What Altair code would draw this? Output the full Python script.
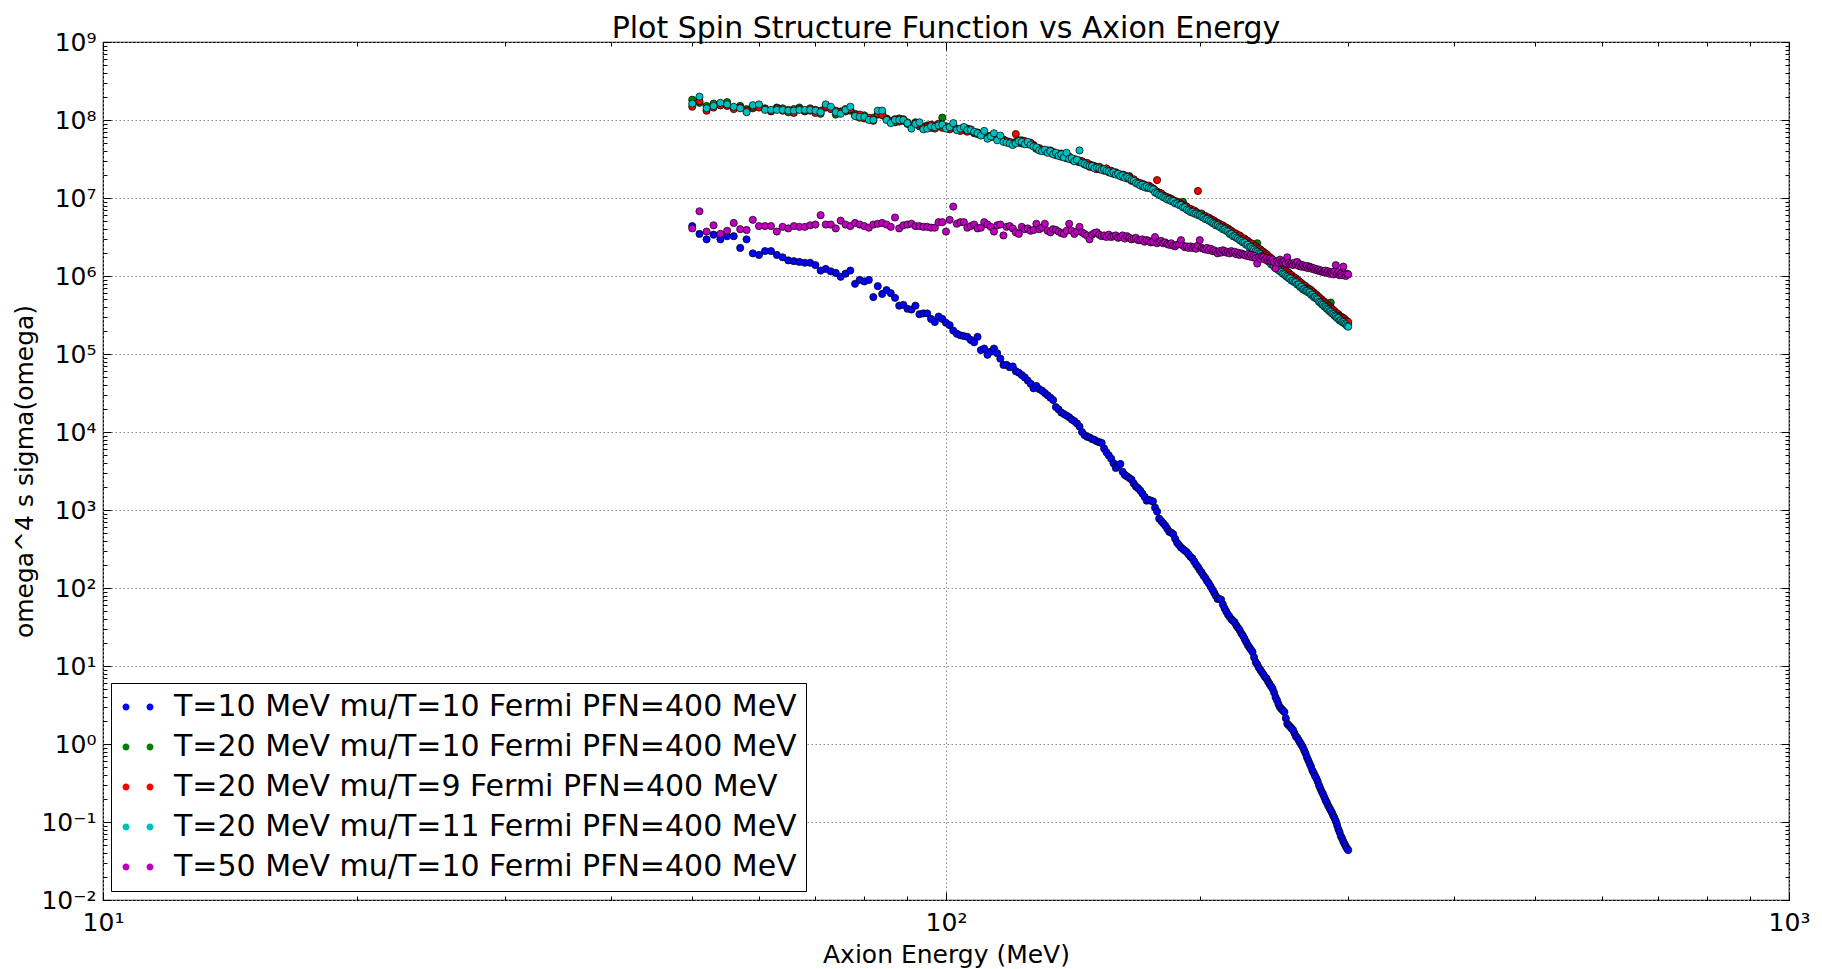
import altair as alt
import pandas as pd

# ---------------- data ----------------
labels = [
    "T=10 MeV mu/T=10 Fermi PFN=400 MeV",
    "T=20 MeV mu/T=10 Fermi PFN=400 MeV",
    "T=20 MeV mu/T=9 Fermi PFN=400 MeV",
    "T=20 MeV mu/T=11 Fermi PFN=400 MeV",
    "T=50 MeV mu/T=10 Fermi PFN=400 MeV",
]
colors = ["#0000ff", "#008000", "#ff0000", "#00bfbf", "#bf00bf"]

# axion energy grid, MeV (1 MeV steps, 50 ... 300)
energy = list(range(50, 301))

# log10 of omega^4 s sigma(omega), one value per energy
blue_log10 = [
    6.64, 6.54, 6.47, 6.53, 6.47, 6.51, 6.51, 6.36, 6.47, 6.29,
    6.27, 6.32, 6.32, 6.27, 6.24, 6.20, 6.19, 6.18, 6.17, 6.17,
    6.14, 6.07, 6.09, 6.06, 6.04, 5.99, 6.03, 6.07, 5.90, 5.95,
    5.93, 5.95, 5.73, 5.87, 5.77, 5.82, 5.78, 5.72, 5.62, 5.63,
    5.58, 5.57, 5.62, 5.51, 5.52, 5.52, 5.45, 5.41, 5.48, 5.45,
    5.40, 5.37, 5.30, 5.26, 5.24, 5.23, 5.22, 5.18, 5.15, 5.22,
    5.05, 5.07, 4.99, 5.03, 5.07, 5.01, 4.94, 4.86, 4.86, 4.83,
    4.84, 4.78, 4.76, 4.73, 4.70, 4.66, 4.62, 4.56, 4.59, 4.55,
    4.53, 4.50, 4.47, 4.44, 4.41, 4.32, 4.29, 4.25, 4.23, 4.21,
    4.19, 4.16, 4.14, 4.11, 4.07, 4.00, 3.96, 3.94, 3.93, 3.91,
    3.90, 3.88, 3.87, 3.86, 3.79, 3.74, 3.70, 3.66, 3.60, 3.54,
    3.57, 3.59, 3.49, 3.45, 3.43, 3.41, 3.39, 3.34, 3.30, 3.28,
    3.25, 3.21, 3.17, 3.12, 3.13, 3.12, 3.11, 3.03, 2.98, 2.89,
    2.86, 2.83, 2.80, 2.76, 2.72, 2.71, 2.69, 2.63, 2.58, 2.55,
    2.52, 2.50, 2.48, 2.46, 2.43, 2.40, 2.38, 2.34, 2.30, 2.27,
    2.23, 2.20, 2.16, 2.13, 2.09, 2.06, 2.02, 1.98, 1.94, 1.90,
    1.86, 1.86, 1.85, 1.79, 1.74, 1.70, 1.66, 1.63, 1.60, 1.58,
    1.56, 1.52, 1.49, 1.46, 1.42, 1.39, 1.35, 1.31, 1.27, 1.24,
    1.21, 1.18, 1.11, 1.05, 1.02, 0.98, 0.95, 0.92, 0.89, 0.86,
    0.84, 0.80, 0.77, 0.74, 0.71, 0.66, 0.60, 0.56, 0.51, 0.47,
    0.45, 0.43, 0.41, 0.33, 0.26, 0.24, 0.22, 0.20, 0.18, 0.14,
    0.10, 0.08, 0.05, 0.02, -0.01, -0.04, -0.08, -0.12, -0.17, -0.21,
    -0.25, -0.29, -0.34, -0.37, -0.41, -0.44, -0.48, -0.53, -0.57, -0.61,
    -0.64, -0.68, -0.72, -0.75, -0.79, -0.82, -0.85, -0.88, -0.92, -0.95,
    -0.99, -1.04, -1.09, -1.13, -1.18, -1.21, -1.25, -1.28, -1.31, -1.34,
    -1.36,
]

green_log10 = [
    8.26, 8.22, 8.18, 8.21, 8.19, 8.23, 8.16, 8.18, 8.14, 8.15,
    8.18, 8.15, 8.12, 8.16, 8.15, 8.10, 8.14, 8.16, 8.11, 8.12,
    8.13, 8.08, 8.16, 8.15, 8.07, 8.11, 8.14, 8.12, 8.08, 8.03,
    8.06, 8.02, 8.03, 8.07, 8.09, 8.02, 7.99, 7.97, 8.02, 7.99,
    7.95, 7.93, 7.97, 7.92, 7.91, 7.93, 7.90, 7.93, 7.92, 8.03,
    7.92, 7.89, 7.91, 7.89, 7.88, 7.87, 7.89, 7.86, 7.83, 7.84,
    7.81, 7.82, 7.79, 7.78, 7.80, 7.76, 7.77, 7.75, 7.72, 7.71,
    7.70, 7.72, 7.71, 7.74, 7.71, 7.69, 7.70, 7.68, 7.64, 7.63,
    7.61, 7.60, 7.59, 7.61, 7.58, 7.56, 7.55, 7.57, 7.54, 7.51,
    7.52, 7.50, 7.49, 7.47, 7.46, 7.47, 7.45, 7.42, 7.43, 7.40,
    7.41, 7.39, 7.37, 7.38, 7.36, 7.37, 7.35, 7.34, 7.32, 7.33,
    7.31, 7.29, 7.30, 7.28, 7.26, 7.28, 7.24, 7.22, 7.21, 7.19,
    7.18, 7.18, 7.16, 7.14, 7.15, 7.13, 7.12, 7.09, 7.08, 7.07,
    7.05, 7.03, 7.02, 7.00, 7.00, 6.98, 6.97, 6.95, 6.95, 6.93,
    6.92, 6.95, 6.90, 6.88, 6.86, 6.85, 6.84, 6.82, 6.82, 6.80,
    6.79, 6.78, 6.77, 6.75, 6.74, 6.73, 6.72, 6.70, 6.69, 6.67,
    6.67, 6.65, 6.64, 6.62, 6.62, 6.60, 6.59, 6.57, 6.56, 6.54,
    6.53, 6.51, 6.50, 6.49, 6.47, 6.46, 6.45, 6.43, 6.42, 6.40,
    6.39, 6.38, 6.36, 6.35, 6.42, 6.32, 6.30, 6.29, 6.27, 6.26,
    6.24, 6.22, 6.20, 6.19, 6.17, 6.16, 6.14, 6.12, 6.11, 6.09,
    6.08, 6.06, 6.05, 6.03, 6.02, 6.00, 5.99, 5.97, 5.96, 5.95,
    5.94, 5.92, 5.91, 5.89, 5.88, 5.86, 5.85, 5.84, 5.83, 5.82,
    5.81, 5.79, 5.78, 5.76, 5.75, 5.74, 5.72, 5.70, 5.69, 5.67,
    5.66, 5.64, 5.63, 5.61, 5.60, 5.58, 5.66, 5.56, 5.54, 5.52,
    5.51, 5.49, 5.48, 5.47, 5.45, 5.44, 5.43, 5.42, 5.40, 5.39,
    5.38,
]

red_log10 = [
    8.17, 8.24, 8.12, 8.16, 8.19, 8.18, 8.14, 8.16, 8.12, 8.17,
    8.16, 8.14, 8.11, 8.15, 8.12, 8.13, 8.09, 8.14, 8.12, 8.15,
    8.09, 8.12, 8.17, 8.14, 8.12, 8.10, 8.11, 8.14, 8.06, 8.07,
    8.02, 8.03, 7.99, 8.08, 8.06, 8.01, 7.98, 8.01, 7.98, 8.01,
    7.97, 7.92, 7.96, 7.94, 7.90, 7.91, 7.94, 7.89, 7.95, 7.90,
    7.90, 7.88, 7.93, 7.88, 7.86, 7.90, 7.85, 7.88, 7.84, 7.82,
    7.82, 7.84, 7.78, 7.80, 7.81, 7.77, 7.78, 7.74, 7.73, 7.72,
    7.70, 7.82, 7.74, 7.70, 7.73, 7.70, 7.71, 7.67, 7.63, 7.64,
    7.62, 7.60, 7.61, 7.58, 7.59, 7.55, 7.57, 7.53, 7.55, 7.52,
    7.53, 7.49, 7.50, 7.47, 7.48, 7.47, 7.43, 7.45, 7.40, 7.42,
    7.40, 7.37, 7.40, 7.37, 7.35, 7.38, 7.33, 7.35, 7.31, 7.32,
    7.30, 7.30, 7.27, 7.29, 7.25, 7.27, 7.22, 7.24, 7.21, 7.20,
    7.19, 7.15, 7.17, 7.13, 7.16, 7.14, 7.12, 7.10, 7.23, 7.06,
    7.06, 7.03, 7.02, 7.01, 6.99, 6.99, 6.97, 6.96, 6.95, 6.94,
    6.92, 6.91, 6.89, 6.89, 6.86, 6.86, 6.84, 6.84, 6.82, 7.09,
    6.80, 6.80, 6.77, 6.77, 6.75, 6.75, 6.73, 6.72, 6.71, 6.69,
    6.68, 6.67, 6.65, 6.65, 6.63, 6.62, 6.61, 6.59, 6.58, 6.56,
    6.55, 6.54, 6.52, 6.52, 6.50, 6.48, 6.48, 6.46, 6.45, 6.43,
    6.42, 6.41, 6.39, 6.38, 6.36, 6.35, 6.34, 6.32, 6.31, 6.29,
    6.28, 6.26, 6.24, 6.23, 6.21, 6.19, 6.18, 6.16, 6.14, 6.13,
    6.11, 6.10, 6.08, 6.07, 6.05, 6.04, 6.02, 6.01, 5.99, 5.98,
    5.97, 5.95, 5.94, 5.92, 5.91, 5.89, 5.88, 5.87, 5.85, 5.84,
    5.83, 5.82, 5.80, 5.79, 5.77, 5.76, 5.74, 5.73, 5.71, 5.70,
    5.68, 5.67, 5.65, 5.64, 5.62, 5.61, 5.59, 5.58, 5.56, 5.55,
    5.53, 5.52, 5.51, 5.49, 5.48, 5.47, 5.46, 5.45, 5.43, 5.42,
    5.41,
]

cyan_log10 = [
    8.21, 8.30, 8.15, 8.18, 8.22, 8.20, 8.17, 8.15, 8.10, 8.19,
    8.20, 8.13, 8.13, 8.13, 8.13, 8.12, 8.12, 8.13, 8.13, 8.13,
    8.12, 8.10, 8.20, 8.17, 8.10, 8.08, 8.13, 8.17, 8.05, 8.04,
    8.04, 8.00, 8.00, 8.12, 8.12, 8.00, 7.96, 8.00, 8.00, 8.00,
    7.96, 7.89, 7.95, 7.97, 7.88, 7.89, 7.92, 7.91, 7.93, 7.94,
    7.89, 7.91, 7.96, 7.87, 7.89, 7.91, 7.87, 7.87, 7.85, 7.83,
    7.80, 7.86, 7.76, 7.79, 7.83, 7.74, 7.80, 7.72, 7.71, 7.70,
    7.68, 7.70, 7.73, 7.72, 7.69, 7.72, 7.68, 7.66, 7.65, 7.61,
    7.60, 7.62, 7.58, 7.60, 7.56, 7.58, 7.54, 7.56, 7.52, 7.58,
    7.50, 7.51, 7.47, 7.49, 7.61, 7.45, 7.44, 7.42, 7.41, 7.41,
    7.38, 7.39, 7.38, 7.36, 7.37, 7.35, 7.34, 7.32, 7.33, 7.30,
    7.31, 7.28, 7.29, 7.26, 7.27, 7.25, 7.23, 7.22, 7.19, 7.18,
    7.16, 7.17, 7.14, 7.15, 7.13, 7.12, 7.11, 7.07, 7.06, 7.04,
    7.03, 7.01, 7.00, 6.98, 6.98, 6.96, 6.96, 6.93, 6.93, 6.91,
    6.91, 6.88, 6.88, 6.85, 6.84, 6.82, 6.82, 6.80, 6.80, 6.78,
    6.78, 6.76, 6.75, 6.73, 6.73, 6.71, 6.70, 6.68, 6.67, 6.65,
    6.65, 6.63, 6.62, 6.60, 6.60, 6.58, 6.57, 6.54, 6.54, 6.51,
    6.51, 6.49, 6.48, 6.46, 6.45, 6.43, 6.43, 6.40, 6.40, 6.37,
    6.37, 6.35, 6.34, 6.32, 6.31, 6.29, 6.28, 6.26, 6.25, 6.23,
    6.22, 6.19, 6.18, 6.15, 6.15, 6.12, 6.11, 6.09, 6.08, 6.06,
    6.05, 6.03, 6.02, 6.00, 5.99, 5.97, 5.97, 5.94, 5.94, 5.92,
    5.92, 5.89, 5.89, 5.86, 5.86, 5.83, 5.83, 5.81, 5.81, 5.79,
    5.79, 5.76, 5.76, 5.73, 5.73, 5.71, 5.70, 5.67, 5.66, 5.64,
    5.63, 5.61, 5.60, 5.58, 5.57, 5.55, 5.54, 5.52, 5.51, 5.49,
    5.48, 5.46, 5.46, 5.43, 5.43, 5.41, 5.41, 5.39, 5.38, 5.36,
    5.35,
]

magenta_log10 = [
    6.61, 6.83, 6.57, 6.65, 6.54, 6.58, 6.68, 6.60, 6.59, 6.72,
    6.64, 6.64, 6.64, 6.57, 6.63, 6.61, 6.64, 6.63, 6.63, 6.65,
    6.66, 6.78, 6.66, 6.66, 6.61, 6.71, 6.66, 6.64, 6.68, 6.66,
    6.64, 6.62, 6.66, 6.67, 6.68, 6.66, 6.63, 6.75, 6.61, 6.65,
    6.66, 6.67, 6.64, 6.64, 6.63, 6.63, 6.62, 6.62, 6.69, 6.69,
    6.57, 6.72, 6.89, 6.67, 6.69, 6.69, 6.62, 6.64, 6.66, 6.61,
    6.62, 6.69, 6.66, 6.63, 6.57, 6.65, 6.66, 6.52, 6.63, 6.64,
    6.61, 6.56, 6.54, 6.63, 6.60, 6.61, 6.58, 6.59, 6.67, 6.60,
    6.62, 6.67, 6.58, 6.56, 6.60, 6.59, 6.57, 6.55, 6.54, 6.58,
    6.67, 6.58, 6.54, 6.57, 6.63, 6.56, 6.54, 6.52, 6.47, 6.53,
    6.55, 6.56, 6.53, 6.51, 6.52, 6.50, 6.53, 6.50, 6.51, 6.52,
    6.49, 6.50, 6.52, 6.48, 6.51, 6.49, 6.47, 6.48, 6.49, 6.46,
    6.46, 6.47, 6.44, 6.46, 6.45, 6.43, 6.44, 6.50, 6.42, 6.44,
    6.45, 6.42, 6.43, 6.41, 6.40, 6.42, 6.39, 6.38, 6.40, 6.41,
    6.46, 6.39, 6.37, 6.38, 6.36, 6.38, 6.36, 6.37, 6.35, 6.39,
    6.46, 6.36, 6.35, 6.34, 6.36, 6.33, 6.35, 6.32, 6.33, 6.31,
    6.29, 6.32, 6.30, 6.33, 6.32, 6.30, 6.31, 6.29, 6.32, 6.30,
    6.31, 6.28, 6.30, 6.27, 6.29, 6.28, 6.27, 6.26, 6.28, 6.25,
    6.27, 6.24, 6.26, 6.23, 6.16, 6.24, 6.22, 6.25, 6.24, 6.21,
    6.23, 6.20, 6.22, 6.19, 6.21, 6.18, 6.10, 6.19, 6.17, 6.21,
    6.18, 6.17, 6.19, 6.16, 6.24, 6.17, 6.15, 6.16, 6.14, 6.17,
    6.15, 6.18, 6.13, 6.15, 6.12, 6.14, 6.12, 6.11, 6.13, 6.10,
    6.12, 6.11, 6.09, 6.10, 6.08, 6.09, 6.07, 6.08, 6.06, 6.07,
    6.05, 6.05, 6.07, 6.04, 6.06, 6.03, 6.05, 6.04, 6.02, 6.06,
    6.14, 6.03, 6.05, 6.01, 6.03, 6.01, 6.12, 6.02, 6.00, 6.03,
    6.02,
]

# axis tick positions
x_major = [10, 100, 1000]
x_minor = [k * d for d in (10, 100) for k in range(2, 10)]
y_major = [10.0 ** e for e in range(-2, 10)]
y_minor = [k * 10.0 ** e for e in range(-2, 9) for k in range(2, 10)]

# ---------------- build table ----------------
series_values = [blue_log10, green_log10, red_log10, cyan_log10, magenta_log10]
rows = []
for lab, vals in zip(labels, series_values):
    assert len(vals) == len(energy), (lab, len(vals))
    for e, v in zip(energy, vals):
        rows.append({"energy": e, "value": 10.0 ** v, "series": lab})
df = pd.DataFrame(rows)

FONT = "DejaVu Sans"
xscale = alt.Scale(type="log", domain=[10, 1000], nice=False)
yscale = alt.Scale(type="log", domain=[0.01, 1e9], nice=False)

sup = ("'10' + replace(replace(replace(replace(replace(replace(replace(replace(replace(replace(replace("
       "toString(round(log(datum.value)/LN10)), '-', '\u207b'), '0', '\u2070'), '1', '\u00b9'), '2', '\u00b2'),"
       " '3', '\u00b3'), '4', '\u2074'), '5', '\u2075'), '6', '\u2076'), '7', '\u2077'), '8', '\u2078'), '9', '\u2079')")

legend_symbol = ("M -1.04 0 A 0.29 0.29 0 1 0 -0.46 0 A 0.29 0.29 0 1 0 -1.04 0 Z "
                 "M 0.96 0 A 0.29 0.29 0 1 0 1.54 0 A 0.29 0.29 0 1 0 0.96 0 Z")

color = alt.Color(
    "series:N",
    scale=alt.Scale(domain=labels, range=colors),
    legend=alt.Legend(
        title=None, orient="none", legendX=8, legendY=641,
        symbolType=legend_symbol, symbolSize=576, symbolStrokeWidth=0,
        labelFont=FONT, labelFontSize=30, labelLimit=1000, labelOffset=24,
        padding=9, rowPadding=10, strokeColor="black", fillColor="white",
        cornerRadius=0,
    ),
)

# layer 1: the data, with grid lines and axis titles
points = alt.Chart(df).mark_circle(size=52, opacity=1, stroke="black", strokeWidth=0.7).encode(
    x=alt.X("energy:Q", scale=xscale, axis=alt.Axis(
        orient="bottom", values=x_major, grid=True, ticks=False, labels=False, domain=False,
        title="Axion Energy (MeV)", titleFontSize=25, titleFont=FONT, titleFontWeight="normal",
        titleY=62, titleBaseline="alphabetic", titleColor="black")),
    y=alt.Y("value:Q", scale=yscale, axis=alt.Axis(
        orient="left", values=y_major, grid=True, ticks=False, labels=False, domain=False,
        title="omega^4 s sigma(omega)", titleFontSize=25, titleFont=FONT, titleFontWeight="normal",
        titleX=-71, titleY=429, titleAngle=270, titleBaseline="alphabetic", titleAlign="center",
        titleColor="black")),
    color=color,
)

def tick_layer(x_axis, y_axis):
    return alt.Chart(df).transform_filter(alt.datum.energy == 300).mark_circle(opacity=0, size=1).encode(
        x=alt.X("energy:Q", scale=xscale, axis=x_axis),
        y=alt.Y("value:Q", scale=yscale, axis=y_axis),
    )

common = dict(grid=False, domain=False, tickColor="black", tickWidth=1)

major_labeled = tick_layer(
    alt.Axis(orient="bottom", values=x_major, offset=-8, tickSize=8, labels=True, title=None,
             labelExpr=sup, labelFont=FONT, labelFontSize=25, labelPadding=10, labelColor="black",
             labelFlush=False, labelOverlap=False, **common),
    alt.Axis(orient="left", values=y_major, offset=-8, tickSize=8, labels=True, title=None,
             labelExpr=sup, labelFont=FONT, labelFontSize=25, labelPadding=7, labelColor="black",
             labelFlush=False, labelOverlap=False, **common),
)
minor_bl = tick_layer(
    alt.Axis(orient="bottom", values=x_minor, offset=-4, tickSize=4, labels=False, title=None, **common),
    alt.Axis(orient="left", values=y_minor, offset=-4, tickSize=4, labels=False, title=None, **common),
)
major_tr = tick_layer(
    alt.Axis(orient="top", values=x_major, offset=-8, tickSize=8, labels=False, title=None, **common),
    alt.Axis(orient="right", values=y_major, offset=-8, tickSize=8, labels=False, title=None, **common),
)
minor_tr = tick_layer(
    alt.Axis(orient="top", values=x_minor, offset=-4, tickSize=4, labels=False, title=None, **common),
    alt.Axis(orient="right", values=y_minor, offset=-4, tickSize=4, labels=False, title=None, **common),
)

chart = alt.layer(points, major_labeled, minor_bl, major_tr, minor_tr).resolve_axis(
    x="independent", y="independent"
).properties(
    width=1686, height=858,
    autosize=alt.AutoSizeParams(type="none"),
    padding={"left": 103, "top": 42, "right": 33, "bottom": 69},
    title=alt.TitleParams("Plot Spin Structure Function vs Axion Energy", fontSize=30, font=FONT,
                          fontWeight="normal", anchor="middle", color="black", offset=7, dy=21),
).configure_view(
    stroke="black", strokeWidth=1.2
).configure_axis(
    gridColor="#888888", gridDash=[1.5, 2.5], gridWidth=1
)

chart.save("out.html", embed_options={"renderer": "svg", "actions": False})
